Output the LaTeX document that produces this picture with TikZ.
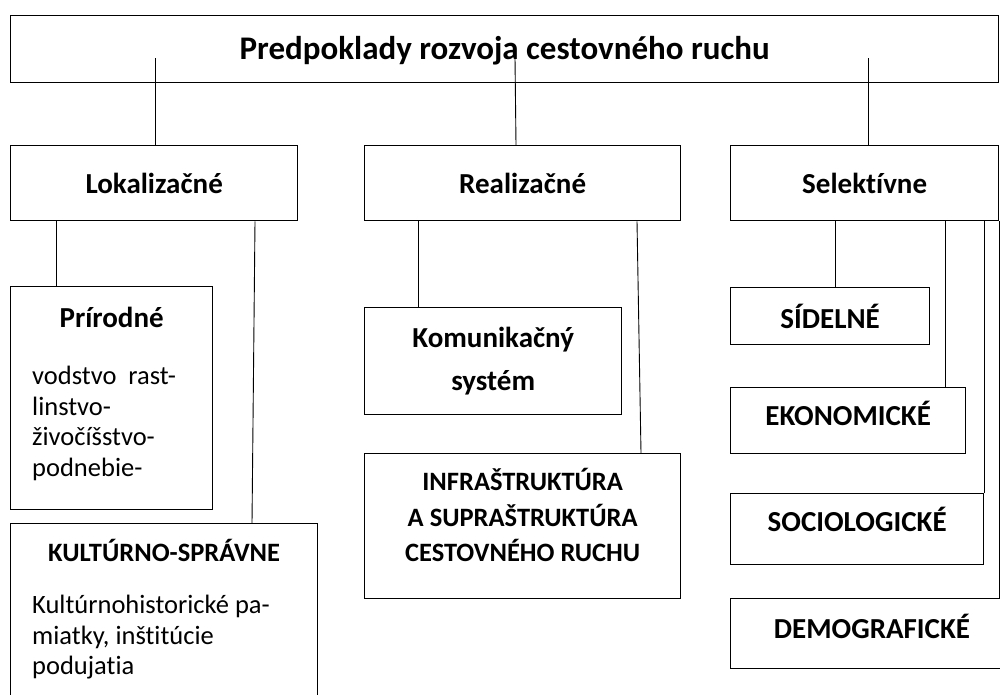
\documentclass[tikz,border=0pt]{standalone}
\usepackage{fontspec}
\setmainfont{Carlito}[Ligatures=NoCommon]
\usetikzlibrary{positioning}

\tikzset{
  box/.style={draw, line width=1.3pt, inner sep=0pt, anchor=north west,
    font=\bfseries\fontsize{29}{43}\selectfont, align=center},
  link/.style={line width=0.9pt},
  head/.style={font=\bfseries\fontsize{29}{34}\selectfont, align=center, inner sep=0pt},
  body/.style={font=\fontsize{26.5}{30.5}\selectfont, align=left, inner sep=0pt, anchor=north west},
}

\begin{document}
\begin{tikzpicture}[x=1pt,y=-1pt]
  \path[use as bounding box] (0,0) rectangle (1000,695);
  \clip (0,0) rectangle (1000,695);

  % top level
  \node[box, font=\bfseries\fontsize{33}{40}\selectfont, minimum width=988pt, minimum height=67pt] (top) at (10,15) {};
  \node[head, font=\bfseries\fontsize{33}{40}\selectfont] (topT) at ([yshift=-2pt]top.center)
    {Predpoklady rozvoja cestovného ruchu};

  % second level
  \node[box, minimum width=287pt, minimum height=75pt] (lok) at (10,145) {Lokalizačné};
  \node[box, minimum width=316pt, minimum height=75pt] (real) at (364,145) {Realizačné};
  \node[box, minimum width=268pt, minimum height=75pt] (sel) at (730,145) {Selektívne};

  \draw[link] (top.center -| 155,0) ++(0,9) -- (lok.north -| 155,0);
  \draw[link] (top.center -| 515,0) ++(0,9) -- (real.north -| 516,0);
  \draw[link] (top.center -| 868,0) ++(0,9) -- (sel.north -| 868,0);

  % Lokalizacne
  \node[box, minimum width=202pt, minimum height=223pt] (prir) at (10,286) {};
  \node[head] (prirT) at ([yshift=-31pt]prir.north) {Prírodné};
  \node[body] (prirB) at (32,366) {vodstvo\hspace{0.45em}rast-\\linstvo-\\živočíšstvo-\\podnebie-};

  \node[box, minimum width=307pt, minimum height=200pt] (kult) at (10,523) {};
  \node[head, font=\bfseries\fontsize{26.5}{30}\selectfont] (kultT) at ([yshift=-27pt]kult.north) {KULTÚRNO-SPRÁVNE};
  \node[body] (kultB) at (32,595) {Kultúrnohistorické pa-\\miatky, inštitúcie\\podujatia};

  \draw[link] (lok.south -| 56,0) -- (prir.north -| 56,0);
  \draw[link] (lok.south -| 255,0) -- (kult.north -| 252,0);

  % Realizacne
  \node[box, minimum width=257pt, minimum height=107pt] (kom) at (364,307) {Komunikačný\\systém};
  \node[box, minimum width=316pt, minimum height=145pt] (infra) at (364,453) {};
  \node[head, font=\bfseries\fontsize{26.5}{35.5}\selectfont] (infraT) at ([yshift=11pt]infra.center)
    {INFRAŠTRUKTÚRA\\A SUPRAŠTRUKTÚRA\\CESTOVNÉHO RUCHU};

  \draw[link] (real.south -| 418,0) -- (kom.north -| 418,0);
  \draw[link] (real.south -| 637,0) -- (infra.north -| 641,0);

  % Selektivne
  \node[box, minimum width=199pt, minimum height=57pt] (sid) at (730,287) {SÍDELNÉ};
  \node[box, minimum width=235pt, minimum height=66pt] (eko) at (730,387) {};
  \node[head] (ekoT) at ([yshift=7pt]eko.center) {EKONOMICKÉ};
  \node[box, minimum width=253pt, minimum height=71pt] (soc) at (730,493) {};
  \node[head] (socT) at ([yshift=10pt]soc.center) {SOCIOLOGICKÉ};
  \node[box, minimum width=290pt, minimum height=70pt] (demo) at (730,598) {};
  \node[head] (demoT) at (872,626) {DEMOGRAFICKÉ};

  \draw[link] (sel.south -| 835,0) -- (sid.north -| 835,0);
  \draw[link] (sel.south -| 945,0) -- (eko.north -| 945,0);
  \draw[link] (sel.south -| soc.north east) -- (soc.north east);
  \draw[link] (sel.south east) -- (demo.north -| sel.east);
\end{tikzpicture}
\end{document}
